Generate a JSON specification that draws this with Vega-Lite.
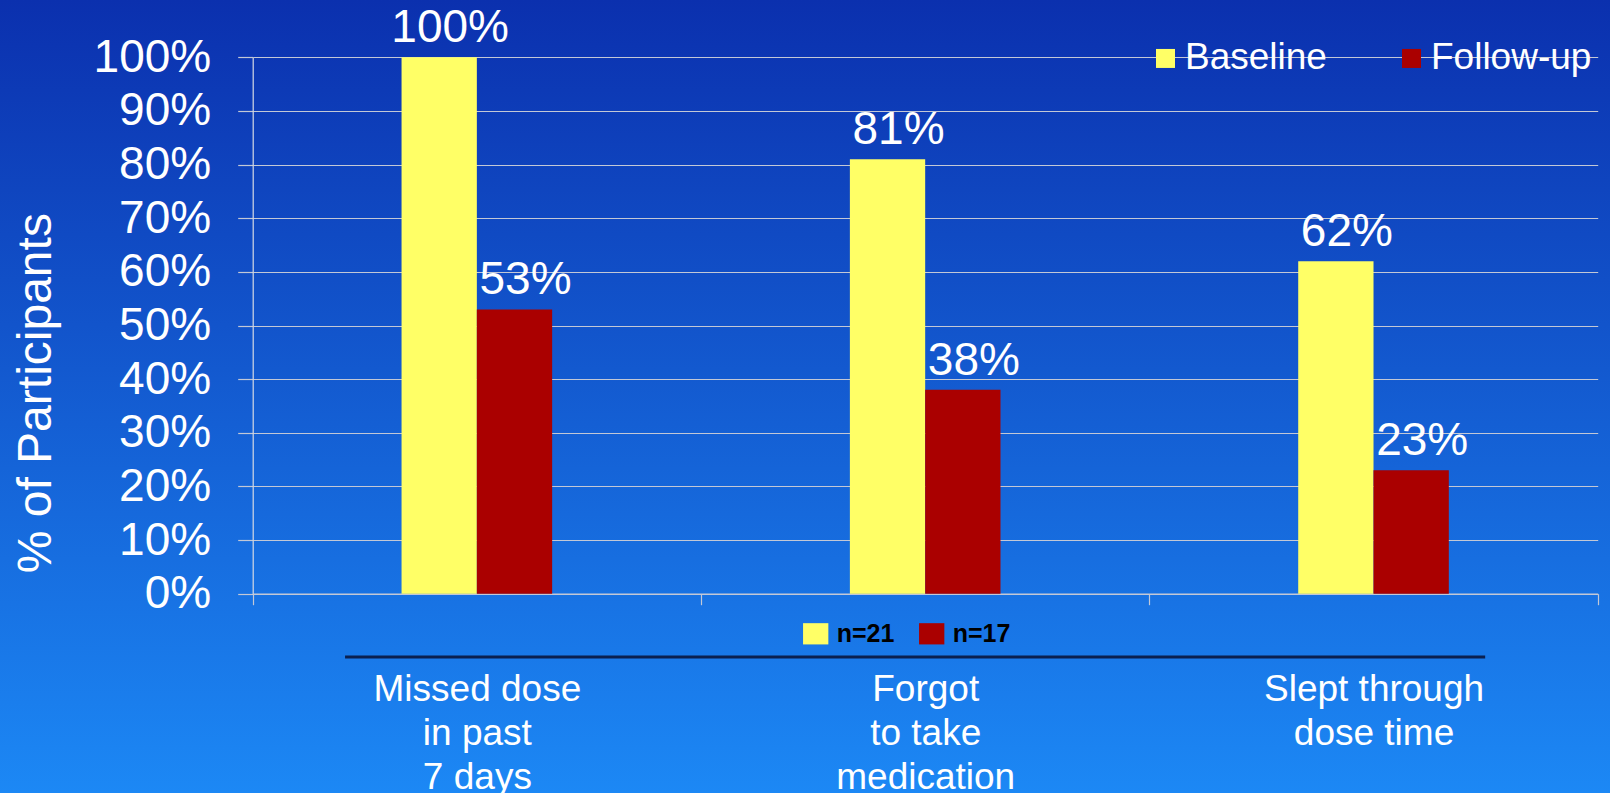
{
  "$schema": "https://vega.github.io/schema/vega-lite/v6.json",
  "width": 1610,
  "height": 793,
  "autosize": {"type": "none"},
  "padding": 0,
  "background": "#1466d8",
  "config": {"font": "Liberation Sans", "view": {"stroke": null}},
  "view": {
    "stroke": null,
    "fill": {
      "gradient": "linear",
      "x1": 0, "y1": 0, "x2": 0, "y2": 1,
      "stops": [
        {"offset": 0, "color": "#0b30ae"},
        {"offset": 1, "color": "#1c88f5"}
      ]
    }
  },
  "data": {
    "values": [
      {"category": "Missed dose\nin past\n7 days", "group": "Baseline", "n": "n=21", "value": 100, "label": "100%"},
      {"category": "Missed dose\nin past\n7 days", "group": "Follow-up", "n": "n=17", "value": 53, "label": "53%"},
      {"category": "Forgot\nto take\nmedication", "group": "Baseline", "n": "n=21", "value": 81, "label": "81%"},
      {"category": "Forgot\nto take\nmedication", "group": "Follow-up", "n": "n=17", "value": 38, "label": "38%"},
      {"category": "Slept through\ndose time", "group": "Baseline", "n": "n=21", "value": 62, "label": "62%"},
      {"category": "Slept through\ndose time", "group": "Follow-up", "n": "n=17", "value": 23, "label": "23%"}
    ]
  },
  "layer": [
    {
      "mark": {"type": "bar"},
      "encoding": {
        "x": {
          "field": "category", "type": "nominal", "sort": null,
          "scale": {"range": [252.7, 1597.7], "paddingInner": 0, "paddingOuter": 0},
          "axis": {
            "orient": "bottom", "offset": -199.3, "tickBand": "extent",
            "tickSize": 11, "tickColor": "#c3c8d6", "tickWidth": 1.2,
            "domainColor": "#c3c8d6", "domainWidth": 1.2,
            "labelExpr": "split(datum.label, '\\n')",
            "labelFontSize": 37, "labelColor": "white", "labelPadding": 67,
            "labelLineHeight": 44, "labelLimit": 600, "labelAngle": 0,
            "labelBaseline": "top", "labelAlign": "center",
            "title": null, "grid": false, "labelOverlap": false
          }
        },
        "xOffset": {
          "field": "group", "type": "nominal", "sort": ["Baseline", "Follow-up"],
          "scale": {"range": [148.85, 299.45], "paddingInner": 0, "paddingOuter": 0}
        },
        "y": {
          "field": "value", "type": "quantitative",
          "scale": {"domain": [0, 100], "range": [593.7, 57.3], "nice": false},
          "axis": {
            "values": [0, 10, 20, 30, 40, 50, 60, 70, 80, 90, 100],
            "labelExpr": "datum.value + '%'",
            "offset": -252.7,
            "grid": true, "gridColor": "#c3c8d6", "gridWidth": 1.2,
            "tickSize": 15, "tickColor": "#c3c8d6", "tickWidth": 1.2,
            "domainColor": "#d6dae4", "domainWidth": 1.2,
            "labelFontSize": 46, "labelColor": "white", "labelPadding": 27,
            "labelBaseline": "middle", "labelOverlap": false,
            "title": "% of Participants", "titleFontSize": 48,
            "titleFontWeight": "normal", "titleColor": "white",
            "titleX": -202.7, "titleY": 392.7, "titleAngle": -90,
            "titleAlign": "center", "titleBaseline": "alphabetic"
          }
        },
        "color": {
          "field": "group", "type": "nominal",
          "scale": {"domain": ["Baseline", "Follow-up"], "range": ["#ffff66", "#aa0000"]},
          "legend": {
            "orient": "none", "legendX": 1147, "legendY": 39.7,
            "direction": "horizontal", "title": null,
            "symbolType": "square", "symbolSize": 361, "symbolStrokeWidth": 0,
            "symbolOpacity": 1,
            "labelFontSize": 37, "labelColor": "white", "labelOffset": 1,
            "columnPadding": 66, "padding": 0, "labelLimit": 400
          }
        }
      }
    },
    {
      "mark": {
        "type": "text", "fontSize": 46, "color": "white",
        "align": "center", "baseline": "alphabetic", "dx": 11, "dy": -15
      },
      "encoding": {
        "x": {"field": "category", "type": "nominal", "sort": null},
        "xOffset": {"field": "group", "type": "nominal", "sort": ["Baseline", "Follow-up"]},
        "y": {"field": "value", "type": "quantitative"},
        "text": {"field": "label"}
      }
    },
    {
      "mark": {"type": "square", "opacity": 0},
      "encoding": {
        "x": {"field": "category", "type": "nominal", "sort": null},
        "xOffset": {"field": "group", "type": "nominal", "sort": ["Baseline", "Follow-up"]},
        "y": {"field": "value", "type": "quantitative"},
        "fill": {
          "field": "n", "type": "nominal",
          "scale": {"domain": ["n=21", "n=17"], "range": ["#ffff66", "#aa0000"]},
          "legend": {
            "orient": "none", "legendX": 802.7, "legendY": 620.8,
            "direction": "horizontal", "title": null,
            "symbolType": "M-1,-0.84H1V0.84H-1Z", "symbolSize": 640,
            "symbolStrokeWidth": 0, "symbolOpacity": 1,
            "labelFontSize": 25, "labelFontWeight": "bold", "labelColor": "black",
            "labelOffset": 8, "columnPadding": 24, "padding": 0
          }
        }
      }
    },
    {
      "transform": [{"filter": "datum.group === 'Baseline' && datum.value === 100"}],
      "mark": {"type": "rule", "color": "#0b2050", "strokeWidth": 3},
      "encoding": {
        "x": {"datum": "Missed dose\nin past\n7 days", "type": "nominal", "bandPosition": 0.206},
        "x2": {"datum": "Slept through\ndose time", "bandPosition": 0.749},
        "y": {"datum": -11.8, "type": "quantitative"}
      }
    }
  ]
}
